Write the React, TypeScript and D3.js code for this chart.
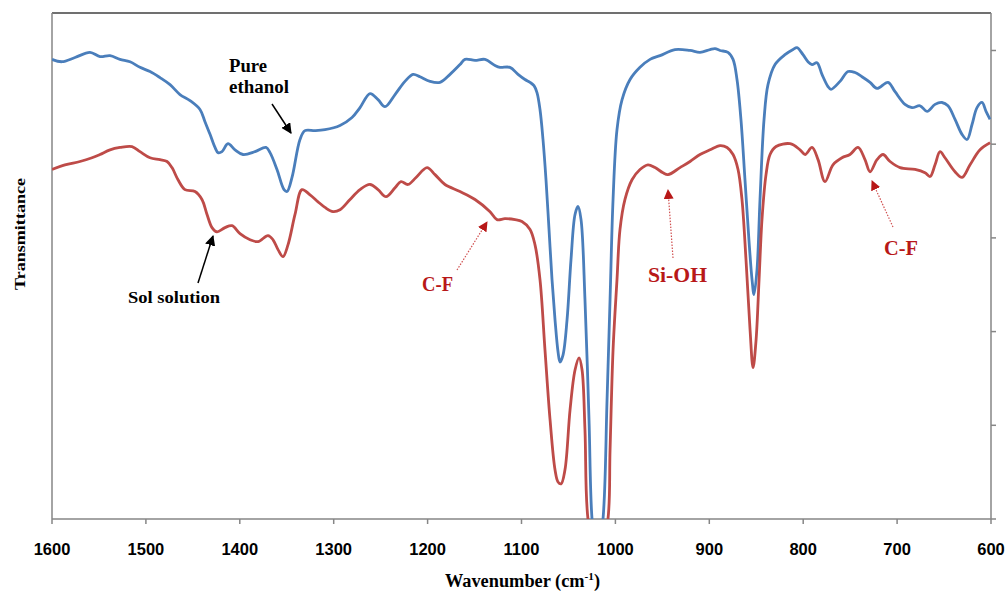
import React from "react";
import * as d3 from "d3";

const xTicks = [1600, 1500, 1400, 1300, 1200, 1100, 1000, 900, 800, 700, 600];
const yTicks = [0, 20, 40, 60, 80, 100];

const ethanolWn = [1600, 1589.4, 1575.5, 1559.5, 1548.9, 1538.2, 1527.6, 1516.9, 1506.3, 1495.6, 1485.0, 1474.3, 1463.7, 1453.0, 1442.4, 1437.1, 1431.7, 1426.4, 1423.2, 1419.0, 1412.6, 1405.1, 1396.6, 1383.8, 1372.1, 1367.8, 1360.4, 1352.9, 1349.7, 1344.4, 1335.9, 1330.6, 1319.9, 1309.3, 1293.3, 1280.5, 1272.0, 1261.3, 1252.8, 1245.4, 1234.7, 1224.1, 1215.5, 1208.1, 1197.4, 1186.8, 1176.1, 1165.5, 1160.2, 1149.5, 1138.9, 1128.2, 1122.9, 1112.3, 1103.7, 1096.3, 1090.9, 1086.7, 1083.5, 1080.3, 1077.1, 1073.9, 1070.7, 1067.5, 1064.3, 1061.1, 1059.0, 1055.8, 1051.5, 1047.3, 1043.0, 1039.8, 1036.6, 1032.4, 1028.1, 1024.9, 1019.6, 1013.2, 1008.9, 1005.7, 1002.5, 998.3, 992.9, 984.4, 973.8, 963.1, 952.5, 936.5, 920.5, 909.9, 899.2, 893.9, 888.6, 880.1, 874.7, 870.5, 866.3, 862.0, 857.8, 854.5, 852.4, 849.2, 846.0, 841.7, 837.5, 830.0, 819.4, 810.8, 806.6, 800.2, 794.9, 790.6, 785.3, 780.0, 773.6, 770.4, 760.8, 752.3, 744.8, 737.4, 728.8, 721.4, 709.7, 702.2, 691.6, 684.1, 675.6, 668.1, 659.6, 652.2, 645.8, 638.3, 630.9, 625.5, 620.2, 614.9, 609.6, 605.3, 601.0];
const ethanolT = [98.1, 97.6, 98.5, 99.6, 98.7, 98.9, 98.1, 97.6, 96.4, 95.5, 94.2, 92.7, 90.6, 89.3, 87.4, 84.8, 82.1, 79.3, 78.2, 78.4, 80.1, 78.8, 77.8, 78.4, 79.3, 78.2, 74.6, 70.3, 69.9, 72.9, 81.0, 82.9, 82.9, 83.1, 84.0, 85.7, 87.8, 90.8, 89.5, 88.0, 90.6, 93.4, 94.9, 94.4, 93.4, 93.2, 94.9, 97.0, 98.1, 97.9, 98.1, 96.8, 96.4, 96.4, 94.9, 93.8, 93.2, 92.5, 91.0, 87.4, 81.0, 72.4, 61.8, 51.1, 42.5, 35.7, 33.5, 35.0, 42.5, 55.3, 65.0, 66.7, 63.9, 46.8, 21.2, 0, -8.8, 0, 25.4, 46.8, 68.2, 83.1, 89.5, 93.8, 96.4, 98.1, 98.9, 100.2, 100.0, 99.6, 100.2, 100.4, 100.0, 99.6, 98.1, 93.8, 85.3, 72.4, 59.6, 51.1, 47.9, 53.2, 68.2, 85.3, 92.7, 97.0, 99.1, 100.2, 100.6, 99.1, 97.6, 97.0, 97.4, 94.9, 92.3, 91.7, 93.4, 95.5, 95.3, 94.4, 93.2, 91.9, 93.2, 91.2, 88.5, 87.8, 88.2, 87.0, 88.5, 88.9, 88.2, 85.3, 82.1, 81.0, 84.2, 87.8, 88.9, 87.0, 85.3];

const solWn = [1600, 1586.2, 1570.2, 1557.4, 1548.9, 1538.2, 1527.6, 1514.8, 1506.3, 1495.6, 1485.0, 1477.5, 1472.2, 1465.8, 1458.4, 1447.7, 1440.3, 1434.9, 1429.6, 1424.3, 1415.8, 1408.3, 1399.8, 1389.1, 1380.6, 1370.0, 1364.6, 1359.3, 1354.0, 1348.7, 1341.2, 1333.8, 1325.2, 1316.7, 1309.3, 1300.7, 1293.3, 1282.6, 1272.0, 1261.3, 1252.8, 1244.3, 1234.7, 1228.3, 1220.9, 1212.3, 1200.6, 1192.1, 1181.5, 1165.5, 1149.5, 1133.5, 1126.1, 1117.6, 1106.9, 1099.5, 1090.9, 1085.6, 1080.3, 1075.0, 1069.6, 1064.3, 1061.1, 1057.9, 1053.7, 1048.3, 1043.0, 1038.7, 1035.5, 1032.4, 1029.2, 1018.5, 1007.9, 1005.7, 1002.5, 998.3, 995.1, 989.8, 982.3, 973.8, 965.3, 957.8, 949.3, 944.0, 931.2, 920.5, 909.9, 899.2, 888.6, 881.1, 874.7, 869.4, 865.2, 860.9, 856.6, 853.4, 850.2, 847.0, 843.9, 839.6, 835.3, 828.9, 814.0, 803.4, 798.0, 790.6, 784.2, 776.8, 768.3, 758.7, 750.2, 741.6, 734.2, 728.8, 721.4, 715.0, 707.5, 696.9, 680.9, 670.3, 664.9, 659.6, 654.3, 649.0, 638.3, 630.8, 622.3, 611.7, 601.0];
const solT = [74.6, 75.6, 76.3, 77.1, 77.8, 78.8, 79.3, 79.5, 78.4, 77.1, 76.7, 76.3, 75.0, 72.4, 70.3, 69.9, 68.2, 65.0, 62.2, 61.3, 62.2, 62.6, 60.9, 59.6, 59.2, 60.5, 59.6, 57.5, 56.0, 58.5, 65.0, 70.3, 69.2, 67.7, 66.5, 65.6, 66.0, 68.2, 70.3, 71.4, 70.3, 68.8, 70.7, 72.0, 71.4, 72.9, 75.0, 73.5, 71.4, 69.9, 68.2, 65.6, 63.9, 64.1, 63.9, 63.5, 61.8, 58.5, 51.1, 36.1, 21.2, 10.5, 7.9, 7.5, 10.5, 23.3, 31.8, 34.4, 31.8, 19.0, 0, -10.9, 0, 14.7, 36.1, 51.1, 61.8, 68.2, 72.4, 74.6, 75.6, 75.0, 73.9, 73.5, 75.0, 76.3, 77.8, 78.8, 79.7, 79.3, 77.8, 74.6, 68.2, 55.3, 40.4, 32.3, 38.2, 51.1, 63.9, 73.5, 77.8, 79.5, 80.1, 78.8, 77.8, 79.3, 76.7, 72.0, 75.6, 77.1, 77.8, 79.3, 76.7, 74.1, 76.7, 77.8, 76.3, 75.0, 74.6, 73.9, 73.1, 75.6, 78.4, 77.1, 74.1, 72.9, 75.6, 78.8, 80.3];

const W = 1008;
const H = 591;
const left = 52;
const right = 991;
const top = 13;
const bottom = 519;

export default function App() {
  const x = d3.scaleLinear().domain([1600, 600]).range([left, right]);
  const y = d3.scaleLinear().domain([0, 108]).range([bottom, top]);
  const line = d3
    .line<[number, number]>()
    .x((d) => x(d[0]))
    .y((d) => y(d[1]))
    .curve(d3.curveCatmullRom.alpha(0.5));
  const eth: [number, number][] = ethanolWn.map((w, i) => [w, ethanolT[i]]);
  const sol: [number, number][] = solWn.map((w, i) => [w, solT[i]]);
  const blue = "#4a7ebb";
  const red = "#be4b48";
  const axisCol = "#868686";
  const annRed = "#b81818";
  const serif = "'Liberation Serif', 'DejaVu Serif', serif";
  const sans = "'Liberation Sans', Arial, sans-serif";
  return (
    <svg
      width={W}
      height={H}
      style={{ position: "absolute", left: 0, top: 0, background: "#fff" }}
    >
      <defs>
        <clipPath id="plot">
          <rect x={left} y={top} width={right - left} height={bottom - top} />
        </clipPath>
        <marker id="ab" viewBox="0 0 10 10" refX="9" refY="5" markerWidth="7" markerHeight="7" orient="auto">
          <path d="M0,0 L10,5 L0,10 z" fill="#000" />
        </marker>
        <marker id="ar" viewBox="0 0 10 10" refX="9" refY="5" markerWidth="10" markerHeight="10" orient="auto" markerUnits="userSpaceOnUse">
          <path d="M0,0 L10,5 L0,10 z" fill={annRed} />
        </marker>
      </defs>
      <rect x={0} y={0} width={W} height={H} fill="#fff" />
      {/* frame */}
      <line x1={left} x2={right} y1={top} y2={top} stroke="#404040" strokeWidth={1.5} />
      <line x1={left} x2={left} y1={top} y2={bottom} stroke={axisCol} strokeWidth={1.5} />
      <line x1={right} x2={right} y1={top} y2={bottom} stroke={axisCol} strokeWidth={1.5} />
      <line x1={left} x2={right} y1={bottom} y2={bottom} stroke={axisCol} strokeWidth={1.5} />
      {yTicks.map((t) => (
        <line key={"yt" + t} x1={right} x2={right + 5} y1={y(t)} y2={y(t)} stroke={axisCol} strokeWidth={1.5} />
      ))}
      {xTicks.map((t) => (
        <g key={"xt" + t}>
          <line x1={x(t)} x2={x(t)} y1={bottom} y2={bottom + 5} stroke={axisCol} strokeWidth={1.5} />
          <text
            x={x(t)}
            y={555}
            textAnchor="middle"
            fontFamily={sans}
            fontWeight="bold"
            fontSize={16.5}
            fill="#000"
          >
            {t}
          </text>
        </g>
      ))}
      <g clipPath="url(#plot)">
        <path d={line(eth) || ""} fill="none" stroke={blue} strokeWidth={2.8} strokeLinejoin="round" />
        <path d={line(sol) || ""} fill="none" stroke={red} strokeWidth={2.8} strokeLinejoin="round" />
      </g>
      {/* titles */}
      <text
        x={445}
        y={587}
        fontFamily={serif}
        fontWeight="bold"
        fontSize={18}
        fill="#000"
        textLength={155}
        lengthAdjust="spacingAndGlyphs"
      >
        Wavenumber (cm
        <tspan fontSize={11} dy={-7}>-1</tspan>
        <tspan dy={7}>)</tspan>
      </text>
      <text
        transform="translate(25,234) rotate(-90)"
        textAnchor="middle"
        fontFamily={serif}
        fontWeight="bold"
        fontSize={15}
        textLength={112}
        lengthAdjust="spacingAndGlyphs"
        fill="#000"
      >
        Transmittance
      </text>
      {/* annotations */}
      <text x={229} y={72} fontFamily={serif} fontWeight="bold" fontSize={18} fill="#000" textLength={38} lengthAdjust="spacingAndGlyphs">Pure</text>
      <text x={229} y={93} fontFamily={serif} fontWeight="bold" fontSize={18} fill="#000" textLength={60} lengthAdjust="spacingAndGlyphs">ethanol</text>
      <line x1={272} y1={104} x2={291} y2={133} stroke="#000" strokeWidth={1.5} markerEnd="url(#ab)" />
      <text x={128} y={303} fontFamily={serif} fontWeight="bold" fontSize={17} fill="#000" textLength={92} lengthAdjust="spacingAndGlyphs">Sol solution</text>
      <line x1={198} y1={283} x2={213} y2={236} stroke="#000" strokeWidth={1.5} markerEnd="url(#ab)" />
      <text x={422} y={291} fontFamily={serif} fontWeight="bold" fontSize={20} fill={annRed} textLength={31} lengthAdjust="spacingAndGlyphs">C-F</text>
      <line x1={457} y1={270} x2={487} y2={222} stroke="#d05050" strokeWidth={1.2} strokeDasharray="1.5,1.5" markerEnd="url(#ar)" />
      <text x={648} y={282} fontFamily={serif} fontWeight="bold" fontSize={20} fill={annRed} textLength={59} lengthAdjust="spacingAndGlyphs">Si-OH</text>
      <line x1={673} y1={258} x2={668} y2={190} stroke="#d05050" strokeWidth={1.2} strokeDasharray="1.5,1.5" markerEnd="url(#ar)" />
      <text x={884} y={255} fontFamily={serif} fontWeight="bold" fontSize={20} fill={annRed} textLength={34} lengthAdjust="spacingAndGlyphs">C-F</text>
      <line x1={893} y1={227} x2={872} y2={181} stroke="#d05050" strokeWidth={1.2} strokeDasharray="1.5,1.5" markerEnd="url(#ar)" />
    </svg>
  );
}
